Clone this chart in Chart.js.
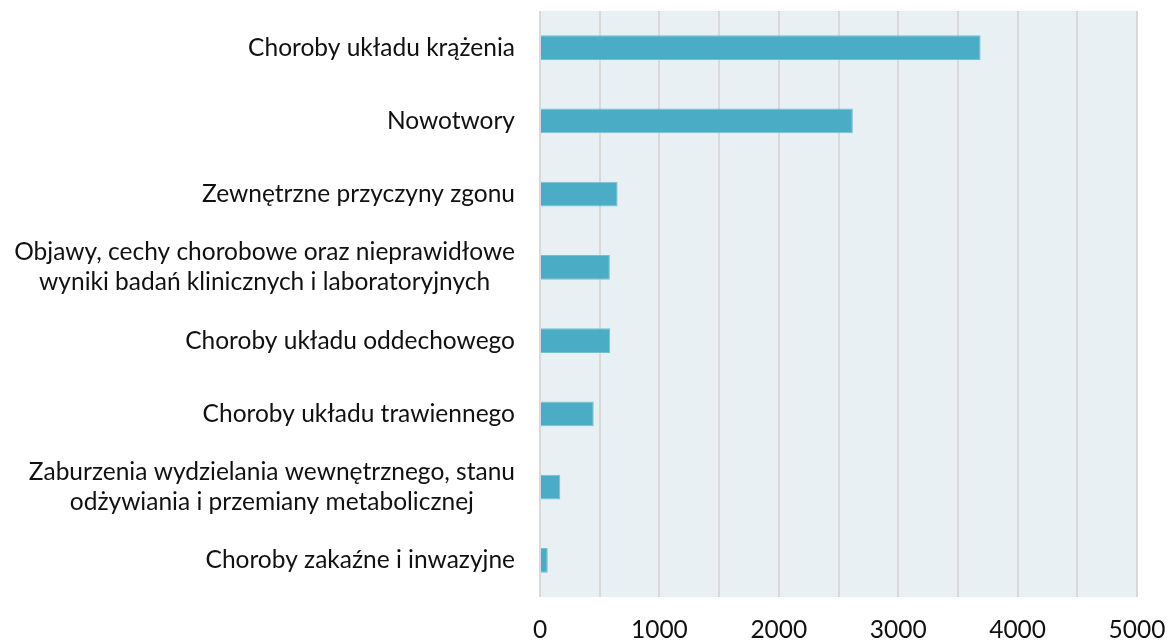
<!DOCTYPE html>
<html>
<head>
<meta charset="utf-8">
<script src="https://cdn.jsdelivr.net/npm/chart.js@4/dist/chart.umd.min.js"></script>
<style>
  html, body { margin: 0; padding: 0; background: #fff; }
  #wrap { width: 1168px; height: 642px; }
</style>
</head>
<body>
<div id="wrap"><canvas id="c" width="1168" height="642"></canvas></div>
<script>
// ── Dane
const kategorie = [
  ['Choroby układu krążenia'],
  ['Nowotwory'],
  ['Zewnętrzne przyczyny zgonu'],
  ['Objawy, cechy chorobowe oraz nieprawidłowe', 'wyniki badań klinicznych i laboratoryjnych'],
  ['Choroby układu oddechowego'],
  ['Choroby układu trawiennego'],
  ['Zaburzenia wydzielania wewnętrznego, stanu', 'odżywiania i przemiany metabolicznej'],
  ['Choroby zakaźne i inwazyjne']
];
const zgony = [3690, 2620, 650, 585, 588, 450, 170, 65];
const osX = { min: 0, max: 5000, krok: 500, etykietaCo: 1000 };

const FONT = 'Lato, "Open Sans", sans-serif';
const FONT_SIZE = 24.5;

// ── Tło obszaru wykresu
const tloPlugin = {
  id: 'tlo',
  beforeDraw(chart) {
    const { ctx, chartArea: a } = chart;
    ctx.save();
    ctx.fillStyle = '#e8f0f4';
    ctx.fillRect(a.left, a.top, a.right - a.left, a.bottom - a.top);
    ctx.restore();
  }
};

// ── Etykiety kategorii (linie wyśrodkowane względem siebie, blok do prawej)
const etykietyPlugin = {
  id: 'etykiety',
  afterDraw(chart) {
    const { ctx } = chart;
    const y = chart.scales.y;
    const prawa = chart.chartArea.left - 25;
    const lh = 30;
    ctx.save();
    ctx.font = FONT_SIZE + 'px ' + FONT;
    ctx.fillStyle = '#111';
    ctx.textAlign = 'center';
    ctx.textBaseline = 'middle';
    kategorie.forEach((linie, i) => {
      const cy = y.getPixelForValue(i);
      const maxW = Math.max(...linie.map(l => ctx.measureText(l).width));
      const cx = prawa - maxW / 2;
      linie.forEach((l, j) => {
        ctx.fillText(l, cx, cy + (j - (linie.length - 1) / 2) * lh);
      });
    });
    ctx.restore();
  }
};

new Chart(document.getElementById('c').getContext('2d'), {
  type: 'bar',
  data: {
    labels: kategorie.map(k => k.join(' ')),
    datasets: [{
      data: zgony,
      backgroundColor: '#4bacc6',
      borderColor: '#74bfd4',
      borderWidth: 1,
      barPercentage: 0.34,
      categoryPercentage: 1
    }]
  },
  options: {
    indexAxis: 'y',
    responsive: false,
    animation: false,
    layout: { padding: { top: 11, right: 31, left: 0, bottom: 0 } },
    plugins: { legend: { display: false }, tooltip: { enabled: false } },
    scales: {
      x: {
        min: osX.min, max: osX.max,
        grid: { color: '#d9d9d9', lineWidth: 2, drawTicks: false },
        border: { display: false },
        ticks: {
          stepSize: osX.krok,
          autoSkip: false,
          maxRotation: 0,
          padding: 18,
          color: '#111',
          font: { family: FONT, size: FONT_SIZE },
          callback: v => (v % osX.etykietaCo === 0 ? String(v) : '')
        },
        afterFit: s => { s.height = 45; s.paddingLeft = 0; s.paddingRight = 0; }
      },
      y: {
        grid: { display: false },
        border: { display: false },
        ticks: { display: false },
        afterFit: s => { s.width = 540; }
      }
    }
  },
  plugins: [tloPlugin, etykietyPlugin]
});
</script>
</body>
</html>
